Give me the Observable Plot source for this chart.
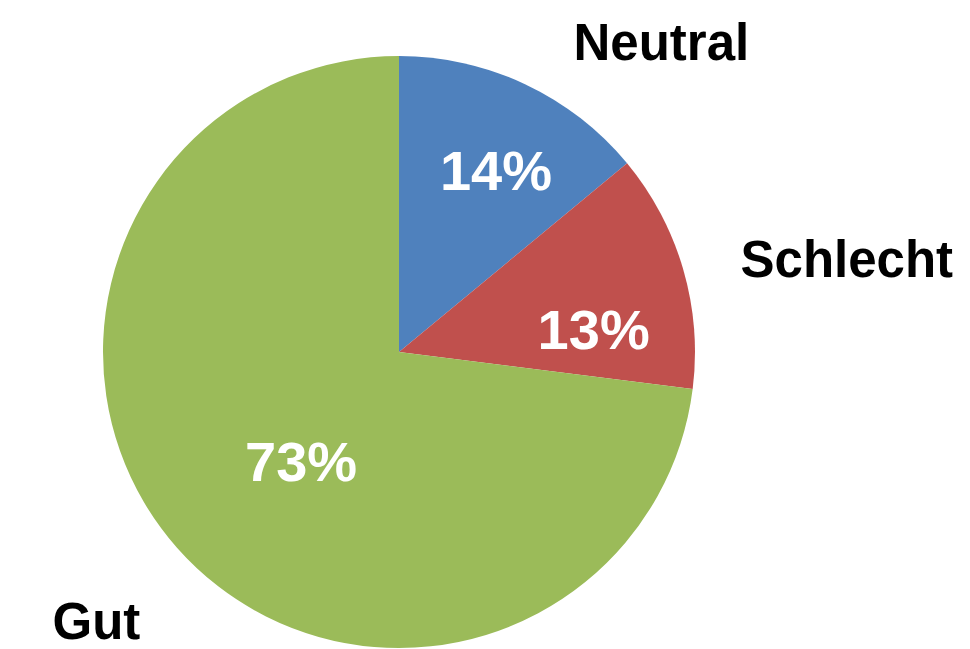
<!DOCTYPE html>
<html>
<head>
<meta charset="utf-8">
<script src="https://cdn.jsdelivr.net/npm/d3@7"></script>
<script src="https://cdn.jsdelivr.net/npm/@observablehq/plot@0.6"></script>
<style>
  html, body { margin: 0; padding: 0; background: #ffffff; }
  #chart svg { display: block; }
</style>
</head>
<body>
<div id="chart"></div>
<script>
// ---- data ----
const categories = ["Neutral", "Schlecht", "Gut"];
const shares = [14, 13, 73];
const percentLabels = ["14%", "13%", "73%"];
const sliceColors = ["#4F81BD", "#C0504D", "#9BBB59"];

// ---- layout (pixel space) ----
const W = 970, H = 649;
const pie = { cx: 399, cy: 352, r: 296 };
// percent label placement: fraction of radius and angular shift (deg) from slice middle
const pctPlacement = [
  { f: 0.69, dA: 3 },
  { f: 0.66, dA: 9.8 },
  { f: 0.50, dA: -6.9 }
];
// category label anchors (left, baseline)
const catAnchors = [
  { x: 573, y: 59 },
  { x: 740, y: 276 },
  { x: 52, y: 638 }
];

const table = categories.map((c, i) => ({ category: c, share: shares[i], label: percentLabels[i] }));
const arcs = d3.pie().sort(null).value(d => d.share)(table);
const color = Plot.scale({ color: { domain: categories, range: sliceColors } });

const pctData = arcs.map((a, i) => {
  const ang = (a.startAngle + a.endAngle) / 2 + pctPlacement[i].dA * Math.PI / 180;
  const rr = pie.r * pctPlacement[i].f;
  return { label: a.data.label, x: pie.cx + rr * Math.sin(ang), y: pie.cy - rr * Math.cos(ang) };
});
const catData = categories.map((c, i) => ({ label: c, x: catAnchors[i].x, y: catAnchors[i].y }));

function pieMark(index, scales) {
  const g = d3.create("svg:g")
    .attr("transform", `translate(${scales.x(pie.cx)},${scales.y(pie.cy)})`);
  const arcGen = d3.arc().innerRadius(0).outerRadius(scales.x(pie.r) - scales.x(0));
  g.selectAll("path").data(arcs).join("path")
    .attr("d", arcGen)
    .attr("fill", d => color.apply(d.data.category));
  return g.node();
}

const chart = Plot.plot({
  width: W,
  height: H,
  margin: 0,
  x: { domain: [0, W], range: [0, W], axis: null },
  y: { domain: [0, H], range: [0, H], axis: null },
  style: { background: "#ffffff", fontFamily: "'Liberation Sans', Arial, sans-serif" },
  marks: [
    pieMark,
    Plot.text(pctData, {
      x: "x", y: "y", text: "label",
      fill: "#ffffff", fontSize: 56, fontWeight: "bold",
      textAnchor: "middle", lineAnchor: "middle"
    }),
    Plot.text(catData, {
      x: "x", y: "y", text: "label",
      fill: "#000000", fontSize: 51, fontWeight: "bold",
      textAnchor: "start", lineAnchor: "bottom"
    })
  ]
});
document.getElementById("chart").appendChild(chart);
</script>
</body>
</html>
